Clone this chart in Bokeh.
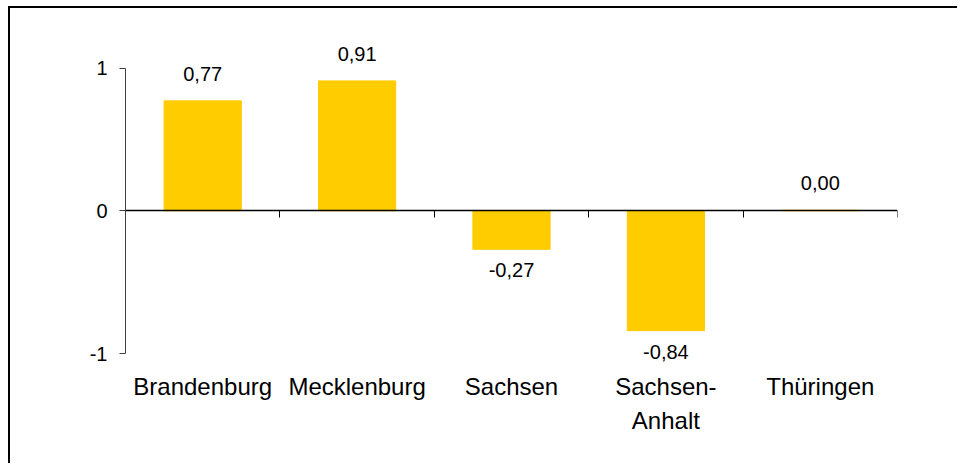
import numpy as np
from bokeh.plotting import figure
from bokeh.models import LinearAxis, FixedTicker, Range1d, ColumnDataSource
from bokeh.core.properties import value
from bokeh.embed import file_html
from bokeh.resources import INLINE

categories = ["Brandenburg", "Mecklenburg", "Sachsen", "Sachsen-\nAnhalt", "Thüringen"]
values = [0.77, 0.91, -0.27, -0.84, 0.004]
y_ticks = [-1, 0, 1]

n = len(categories)
xs = np.arange(n) + 0.5
vals = np.array(values)
labels = [f"{v:.2f}".replace(".", ",") for v in values]

src = ColumnDataSource(dict(
    x=xs, value=vals, label=labels,
    yoff=np.where(vals >= 0, -27.0, 21.0),
))

FONT = "Liberation Sans"

p = figure(
    frame_width=772, frame_height=324,
    min_border_left=115, min_border_top=31, min_border_right=60, min_border_bottom=100,
    x_range=Range1d(0, n), y_range=Range1d(-1.07, 1.2),
    x_axis_location=None, y_axis_location=None,
    toolbar_location=None, output_backend="svg",
    styles={"border-top": "2px solid #000", "border-left": "2px solid #000",
            "margin-left": "8px", "margin-top": "6px"},
)
p.outline_line_color = None
p.background_fill_color = "white"
p.border_fill_color = "white"
for g in p.grid:
    g.visible = False

# y axis
yax = LinearAxis(ticker=FixedTicker(ticks=y_ticks, minor_ticks=[]), bounds=(min(y_ticks), max(y_ticks)))
yax.major_label_overrides = {t: str(t) for t in y_ticks}
yax.axis_line_color = "#404040"
yax.major_tick_line_color = "#404040"
yax.major_tick_out = 6
yax.major_tick_in = 0
yax.minor_tick_line_color = None
yax.major_label_standoff = 12
yax.major_label_text_font = FONT
yax.major_label_text_font_size = "20px"
yax.major_label_text_color = "black"
p.add_layout(yax, "left")

# category labels axis
cax = LinearAxis(ticker=FixedTicker(ticks=list(xs), minor_ticks=[]))
cax.major_label_overrides = {float(x): c for x, c in zip(xs, categories)}
cax.axis_line_color = None
cax.major_tick_line_color = None
cax.minor_tick_line_color = None
cax.major_tick_out = 0
cax.major_tick_in = 0
cax.major_label_standoff = 9
cax.major_label_text_font = FONT
cax.major_label_text_font_size = "24px"
cax.major_label_text_color = "black"
cax.major_label_text_line_height = 1.28
p.add_layout(cax, "below")

# zero line axis with ticks at category boundaries
zax = LinearAxis(ticker=FixedTicker(ticks=list(range(0, n + 1)), minor_ticks=[]), fixed_location=0)
zax.axis_line_color = "black"
zax.axis_line_width = 1.5
zax.major_tick_line_color = "black"
zax.major_tick_out = 0
zax.major_tick_in = 7
zax.minor_tick_line_color = None
zax.major_label_text_font_size = "0px"
zax.major_label_standoff = 0
p.add_layout(zax, "above")

p.vbar(x="x", top="value", width=0.5, source=src, fill_color="#FFCC00", line_color="#FFCC00", line_width=1)

p.text(x="x", y="value", text="label", source=src, y_offset="yoff",
       text_align="center", text_baseline="alphabetic",
       text_font=value(FONT), text_font_size="20px", text_color="black")

open("out.html", "w").write(file_html(p, INLINE))
